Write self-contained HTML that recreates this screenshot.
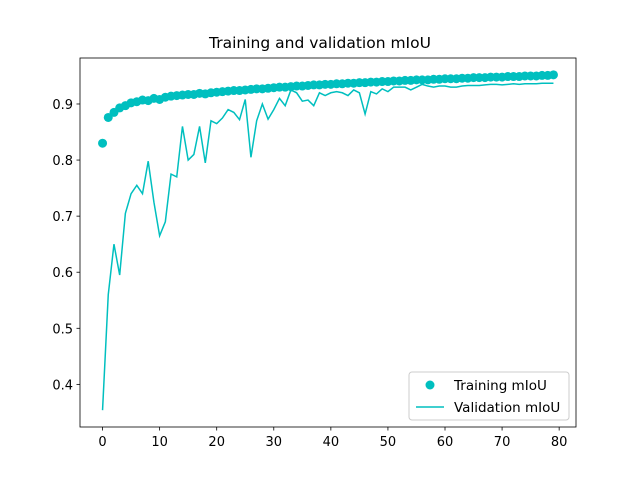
<!DOCTYPE html>
<html><head><meta charset="utf-8"><style>
body{margin:0;background:#fff}
svg text{font-family:"DejaVu Sans","Liberation Sans",sans-serif}
</style></head><body>
<svg id="c" width="640" height="480" xmlns="http://www.w3.org/2000/svg"></svg>
<script>
const train=[0.830,0.876,0.885,0.893,0.897,0.902,0.904,0.907,0.906,0.910,0.908,0.912,0.914,0.915,0.916,0.917,0.917,0.919,0.918,0.920,0.921,0.922,0.923,0.924,0.924,0.925,0.926,0.927,0.927,0.928,0.929,0.930,0.930,0.931,0.932,0.932,0.933,0.934,0.934,0.935,0.935,0.936,0.936,0.937,0.937,0.938,0.938,0.939,0.939,0.940,0.940,0.941,0.941,0.942,0.942,0.943,0.943,0.943,0.944,0.944,0.945,0.945,0.945,0.946,0.946,0.947,0.947,0.947,0.948,0.948,0.948,0.949,0.949,0.949,0.950,0.950,0.950,0.951,0.951,0.952];
const valid=[0.354,0.560,0.650,0.595,0.705,0.740,0.755,0.740,0.798,0.725,0.665,0.690,0.775,0.770,0.860,0.800,0.810,0.860,0.795,0.870,0.865,0.875,0.890,0.885,0.872,0.908,0.805,0.870,0.900,0.873,0.890,0.910,0.897,0.925,0.920,0.905,0.907,0.897,0.920,0.915,0.920,0.922,0.920,0.915,0.925,0.920,0.882,0.922,0.918,0.927,0.922,0.930,0.930,0.930,0.925,0.930,0.935,0.932,0.930,0.932,0.932,0.930,0.930,0.932,0.933,0.933,0.933,0.934,0.935,0.935,0.934,0.935,0.936,0.935,0.936,0.936,0.936,0.937,0.937,0.937];
const xTicks=[0,10,20,30,40,50,60,70,80];
const yTicks=[0.4,0.5,0.6,0.7,0.8,0.9];
const L=80,R=576,T=58,B=427;
const xmin=-3.95,xmax=82.95,ymin=0.324,ymax=0.982;
const X=v=>L+(v-xmin)/(xmax-xmin)*(R-L);
const Y=v=>B-(v-ymin)/(ymax-ymin)*(B-T);
const svg=document.getElementById('c');const NS='http://www.w3.org/2000/svg';
function mk(t,a,p){const e=document.createElementNS(NS,t);for(const k in a)e.setAttribute(k,a[k]);(p||svg).appendChild(e);return e;}
const C='#00bfbf';
let t=mk('text',{x:320,y:48,'text-anchor':'middle','font-size':15.5});t.textContent='Training and validation mIoU';

const gv=mk('g',{});
mk('polyline',{points:valid.map((v,i)=>X(i)+','+Y(v)).join(' '),fill:'none',stroke:C,'stroke-width':1.5},gv);
const gt=mk('g',{});
train.forEach((v,i)=>{const c=mk('circle',{cx:X(i),cy:Y(v),r:4.5,fill:C},gt);});
const ax=mk('rect',{x:L,y:T,width:R-L,height:B-T,fill:'none',stroke:'#000','stroke-width':0.8});

const gx=mk('g',{});
xTicks.forEach(v=>{mk('line',{x1:X(v),x2:X(v),y1:B,y2:B+3.5,stroke:'#000','stroke-width':0.8},gx);const tt=mk('text',{x:X(v),y:B+19,'text-anchor':'middle','font-size':13},gx);tt.textContent=v;});
const gy=mk('g',{});
yTicks.forEach(v=>{mk('line',{x1:L-3.5,x2:L,y1:Y(v),y2:Y(v),stroke:'#000','stroke-width':0.8},gy);const tt=mk('text',{x:L-7,y:Y(v)+5,'text-anchor':'end','font-size':13},gy);tt.textContent=v.toFixed(1);});
const lg=mk('g',{});
mk('rect',{x:409,y:372,width:160,height:48,rx:3,fill:'#fff',stroke:'#ccc','stroke-width':1},lg);
mk('circle',{cx:430,cy:385,r:4.5,fill:C},lg);
let a=mk('text',{x:454,y:390,'font-size':13.5},lg);a.textContent='Training mIoU';
mk('line',{x1:416,x2:444,y1:407,y2:407,stroke:C,'stroke-width':1.5},lg);
let b=mk('text',{x:454,y:412,'font-size':13.5},lg);b.textContent='Validation mIoU';
</script>
</body></html>
